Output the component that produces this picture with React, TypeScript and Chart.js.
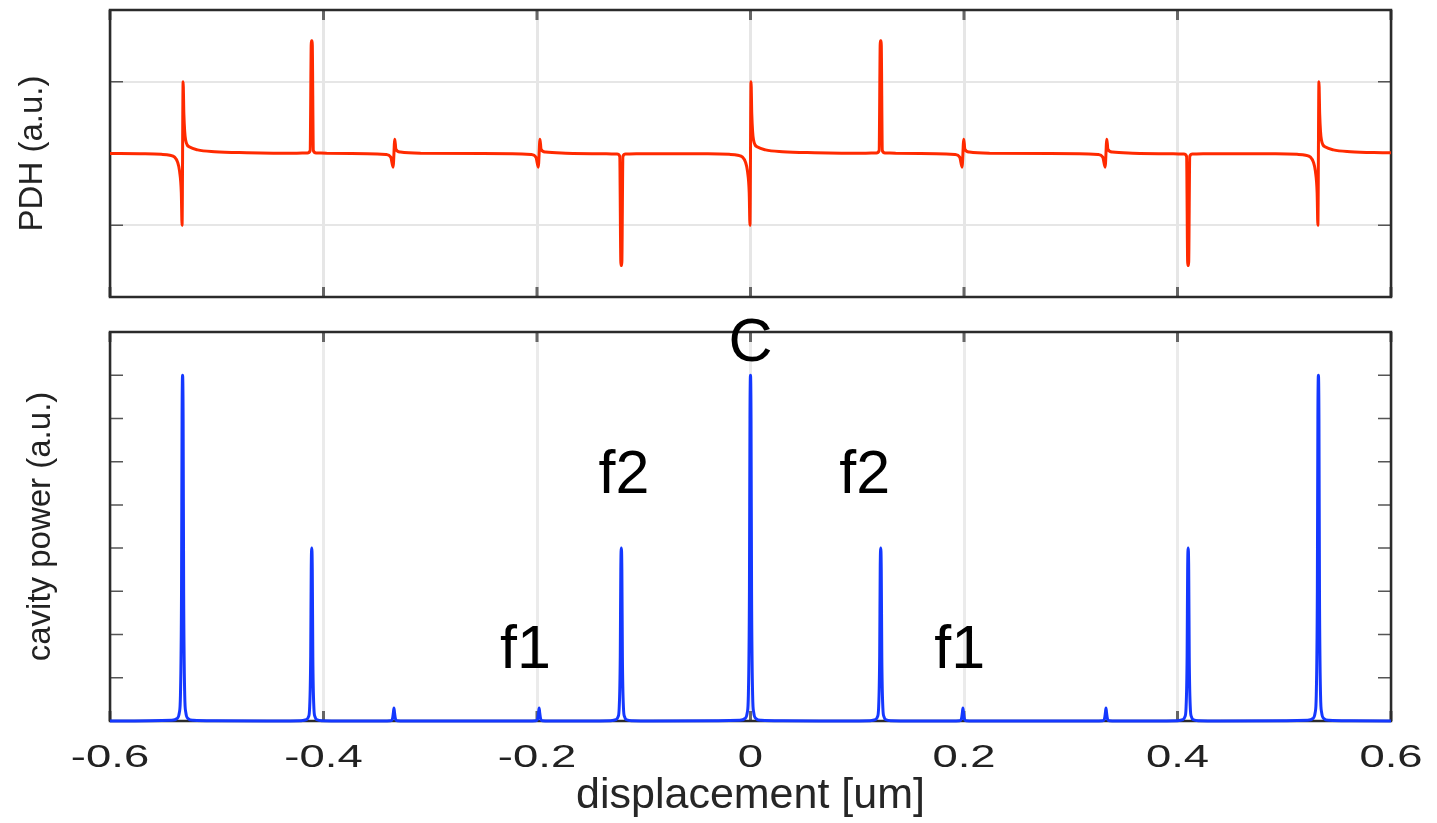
import React, { useEffect, useRef } from "react";
import { Chart, registerables } from "chart.js";

Chart.register(...registerables);

const FONT = "'Liberation Sans', Arial, sans-serif";

// x axis (displacement, um)
const xTickValues = [-0.6, -0.4, -0.2, 0, 0.2, 0.4, 0.6];
const xTickLabels = ["-0.6", "-0.4", "-0.2", "0", "0.2", "0.4", "0.6"];

// y ticks (labels hidden in the reference)
const pdhYTicks = [-1, 1];
const cavYTicks = [0, 1, 2, 3, 4, 5, 6, 7, 8, 9];

// PDH error signal (a.u.)
const pdhX = [
  -0.6,
  -0.572, -0.552, -0.544, -0.5395, -0.5367, -0.5348, -0.5332, -0.5325, -0.5315, -0.5308, -0.5292, -0.5254, -0.518, -0.502, -0.472,
  -0.425, -0.415, -0.4125, -0.4114, -0.4106, -0.4095, -0.407, -0.397,
  -0.359, -0.3415, -0.337, -0.3348, -0.3332, -0.3322, -0.328, -0.309,
  -0.223, -0.2055, -0.201, -0.1988, -0.1972, -0.1962, -0.192, -0.173,
  -0.135, -0.125, -0.1225, -0.1214, -0.1206, -0.1195, -0.117, -0.107,
  -0.04, -0.02, -0.012, -0.0075, -0.0047, -0.0028, -0.0012, -0.0005, 0.0005, 0.0012, 0.0028, 0.0066, 0.014, 0.03, 0.06,
  0.108, 0.118, 0.1205, 0.1216, 0.1224, 0.1235, 0.126, 0.136,
  0.174, 0.1915, 0.196, 0.1982, 0.1998, 0.2008, 0.205, 0.224,
  0.308, 0.3255, 0.33, 0.3322, 0.3338, 0.3348, 0.339, 0.358,
  0.396, 0.406, 0.4085, 0.4096, 0.4104, 0.4115, 0.414, 0.424,
  0.492, 0.512, 0.52, 0.5245, 0.5273, 0.5292, 0.5308, 0.5315, 0.5325, 0.5332, 0.5348, 0.5386, 0.546, 0.562, 0.592,
  0.6,
];
const pdhY = [
  0,
  -0.004, -0.012, -0.025, -0.05, -0.12, -0.25, -0.55, -1.0, 1.0, 0.55, 0.19, 0.09, 0.05, 0.025, 0.012,
  0.004, 0.008, 0.04, 1.57, 1.57, 0.04, 0.008, 0.003,
  -0.003, -0.015, -0.05, -0.19, 0.2, 0.06, 0.02, 0.005,
  -0.003, -0.015, -0.05, -0.19, 0.2, 0.06, 0.02, 0.005,
  -0.003, -0.008, -0.04, -1.56, -1.56, -0.04, -0.008, -0.004,
  -0.004, -0.012, -0.025, -0.05, -0.12, -0.25, -0.55, -1.0, 1.0, 0.55, 0.19, 0.09, 0.05, 0.025, 0.012,
  0.004, 0.008, 0.04, 1.57, 1.57, 0.04, 0.008, 0.003,
  -0.003, -0.015, -0.05, -0.19, 0.2, 0.06, 0.02, 0.005,
  -0.003, -0.015, -0.05, -0.19, 0.2, 0.06, 0.02, 0.005,
  -0.003, -0.008, -0.04, -1.56, -1.56, -0.04, -0.008, -0.004,
  -0.004, -0.012, -0.025, -0.05, -0.12, -0.25, -0.55, -1.0, 1.0, 0.55, 0.19, 0.09, 0.05, 0.025, 0.012,
  0.01,
];

// cavity power (a.u.)
const cavX = [
  -0.6,
  -0.562, -0.542, -0.537, -0.535, -0.534, -0.533, -0.5325, -0.532, -0.5315, -0.531, -0.53, -0.529, -0.527, -0.522, -0.502,
  -0.441, -0.421, -0.416, -0.414, -0.413, -0.412, -0.4115, -0.411, -0.4105, -0.41, -0.409, -0.408, -0.406, -0.401, -0.381,
  -0.344, -0.337, -0.3355, -0.3345, -0.334, -0.3335, -0.3325, -0.331, -0.324,
  -0.208, -0.201, -0.1995, -0.1985, -0.198, -0.1975, -0.1965, -0.195, -0.188,
  -0.151, -0.131, -0.126, -0.124, -0.123, -0.122, -0.1215, -0.121, -0.1205, -0.12, -0.119, -0.118, -0.116, -0.111, -0.091,
  -0.03, -0.01, -0.005, -0.003, -0.002, -0.001, -0.0005, 0, 0.0005, 0.001, 0.002, 0.003, 0.005, 0.01, 0.03,
  0.092, 0.112, 0.117, 0.119, 0.12, 0.121, 0.1215, 0.122, 0.1225, 0.123, 0.124, 0.125, 0.127, 0.132, 0.152,
  0.189, 0.196, 0.1975, 0.1985, 0.199, 0.1995, 0.2005, 0.202, 0.209,
  0.323, 0.33, 0.3315, 0.3325, 0.333, 0.3335, 0.3345, 0.336, 0.343,
  0.38, 0.4, 0.405, 0.407, 0.408, 0.409, 0.4095, 0.41, 0.4105, 0.411, 0.412, 0.413, 0.415, 0.42, 0.44,
  0.502, 0.522, 0.527, 0.529, 0.53, 0.531, 0.5315, 0.532, 0.5325, 0.533, 0.534, 0.535, 0.537, 0.542, 0.562,
  0.6,
];
const cavY = [
  0,
  0.004, 0.015, 0.06, 0.2, 0.6, 3.0, 7.0, 8, 7.0, 3.0, 0.6, 0.2, 0.06, 0.015, 0.004,
  0.002, 0.008, 0.03, 0.1, 0.3, 1.5, 3.5, 4, 3.5, 1.5, 0.3, 0.1, 0.03, 0.008, 0.002,
  0.002, 0.008, 0.04, 0.2, 0.3, 0.2, 0.04, 0.008, 0.002,
  0.002, 0.008, 0.04, 0.2, 0.3, 0.2, 0.04, 0.008, 0.002,
  0.002, 0.008, 0.03, 0.1, 0.3, 1.5, 3.5, 4, 3.5, 1.5, 0.3, 0.1, 0.03, 0.008, 0.002,
  0.004, 0.015, 0.06, 0.2, 0.6, 3.0, 7.0, 8, 7.0, 3.0, 0.6, 0.2, 0.06, 0.015, 0.004,
  0.002, 0.008, 0.03, 0.1, 0.3, 1.5, 3.5, 4, 3.5, 1.5, 0.3, 0.1, 0.03, 0.008, 0.002,
  0.002, 0.008, 0.04, 0.2, 0.3, 0.2, 0.04, 0.008, 0.002,
  0.002, 0.008, 0.04, 0.2, 0.3, 0.2, 0.04, 0.008, 0.002,
  0.002, 0.008, 0.03, 0.1, 0.3, 1.5, 3.5, 4, 3.5, 1.5, 0.3, 0.1, 0.03, 0.008, 0.002,
  0.004, 0.015, 0.06, 0.2, 0.6, 3.0, 7.0, 8, 7.0, 3.0, 0.6, 0.2, 0.06, 0.015, 0.004,
  0,
];

// peak annotations in the lower panel (data coordinates of the text baseline)
const annText = ["C", "f2", "f2", "f1", "f1"];
const annX = [0, -0.1185, 0.107, -0.2108, 0.196];
const annY = [8.33, 5.275, 5.275, 1.226, 1.226];

const framePlugin = {
  id: "frame",
  beforeDatasetsDraw(chart: any) {
    const { ctx, chartArea: a } = chart;
    const xs = chart.scales.x;
    const ys = chart.scales.y;
    ctx.save();
    ctx.lineCap = "butt";
    ctx.strokeStyle = "#666";
    ctx.lineWidth = 3;
    ctx.beginPath();
    xs.ticks.forEach((t: any) => {
      const p = xs.getPixelForValue(t.value);
      ctx.moveTo(p, a.top);
      ctx.lineTo(p, a.top + 10);
      ctx.moveTo(p, a.bottom);
      ctx.lineTo(p, a.bottom - 10);
    });
    ctx.stroke();
    ctx.strokeStyle = "#555";
    ctx.lineWidth = 1.5;
    ctx.beginPath();
    ys.ticks.forEach((t: any) => {
      const p = ys.getPixelForValue(t.value);
      ctx.moveTo(a.left, p);
      ctx.lineTo(a.left + 13, p);
      ctx.moveTo(a.right, p);
      ctx.lineTo(a.right - 13, p);
    });
    ctx.stroke();
    ctx.strokeStyle = "#2b2b2b";
    ctx.lineWidth = 2.5;
    ctx.strokeRect(a.left, a.top, a.right - a.left, a.bottom - a.top);
    ctx.restore();
  },
};

const bottomTextPlugin = {
  id: "bottomText",
  afterDraw(chart: any) {
    const { ctx, chartArea: a } = chart;
    const xs = chart.scales.x;
    const ys = chart.scales.y;
    ctx.save();
    ctx.fillStyle = "#222";
    ctx.font = `32px ${FONT}`;
    ctx.textAlign = "center";
    ctx.textBaseline = "alphabetic";
    xs.ticks.forEach((t: any, i: number) => {
      const p = xs.getPixelForValue(t.value);
      ctx.save();
      ctx.translate(p, a.bottom + 46);
      ctx.scale(1.42, 1);
      ctx.fillText(xTickLabels[i], 0, 0);
      ctx.restore();
    });
    ctx.fillStyle = "#000";
    ctx.font = `61px ${FONT}`;
    annText.forEach((s, i) => {
      ctx.fillText(s, xs.getPixelForValue(annX[i]), ys.getPixelForValue(annY[i]));
    });
    ctx.restore();
  },
};

const setXTicks = (s: any) => {
  s.ticks = xTickValues.map((v) => ({ value: v }));
};

export default function App() {
  const topRef = useRef<HTMLCanvasElement>(null);
  const botRef = useRef<HTMLCanvasElement>(null);

  useEffect(() => {
    const pdhData = pdhX.map((x, i) => ({ x, y: pdhY[i] }));
    const cavData = cavX.map((x, i) => ({ x, y: cavY[i] }));

    const top = new Chart(topRef.current!, {
      type: "line",
      data: {
        datasets: [
          {
            data: pdhData,
            borderColor: "#ff2a00",
            borderWidth: 3,
            pointRadius: 0,
            cubicInterpolationMode: "monotone",
            borderJoinStyle: "bevel",
            clip: 4,
          } as any,
        ],
      },
      options: {
        animation: false,
        responsive: false,
        events: [],
        layout: { padding: { top: 10, right: 46, left: 0, bottom: 0 } },
        plugins: { legend: { display: false }, tooltip: { enabled: false } },
        scales: {
          x: {
            type: "linear",
            min: -0.6,
            max: 0.6,
            afterBuildTicks: setXTicks,
            ticks: { display: false },
            grid: { color: "#e6e6e6", lineWidth: 3, drawTicks: false },
            border: { display: false },
            afterFit: (s: any) => {
              s.height = 3;
            },
          },
          y: {
            type: "linear",
            min: -2,
            max: 2,
            afterBuildTicks: (s: any) => {
              s.ticks = pdhYTicks.map((v) => ({ value: v }));
            },
            ticks: { display: false },
            grid: { color: "#e6e6e6", lineWidth: 2, drawTicks: false },
            border: { display: false },
            title: {
              display: true,
              text: "PDH (a.u.)",
              color: "#222",
              font: { family: FONT, size: 33, lineHeight: 1 },
              padding: { top: 16, bottom: 0 },
            },
            afterFit: (s: any) => {
              s.width = 110;
            },
          },
        },
      } as any,
      plugins: [framePlugin],
    });

    const bot = new Chart(botRef.current!, {
      type: "line",
      data: {
        datasets: [
          {
            data: cavData,
            borderColor: "#1438ff",
            borderWidth: 3,
            pointRadius: 0,
            cubicInterpolationMode: "monotone",
            borderJoinStyle: "bevel",
            clip: 4,
          } as any,
        ],
      },
      options: {
        animation: false,
        responsive: false,
        events: [],
        layout: { padding: { top: 32, right: 46, left: 0, bottom: 0 } },
        plugins: { legend: { display: false }, tooltip: { enabled: false } },
        scales: {
          x: {
            type: "linear",
            min: -0.6,
            max: 0.6,
            afterBuildTicks: setXTicks,
            ticks: { display: false },
            grid: { color: "#ebebeb", lineWidth: 3, drawTicks: false },
            border: { display: false },
            title: {
              display: true,
              text: "displacement [um]",
              color: "#262626",
              font: { family: FONT, size: 43, lineHeight: 1 },
              padding: { top: 0, bottom: 5.5 },
            },
            afterFit: (s: any) => {
              s.height = 102;
            },
          },
          y: {
            type: "linear",
            min: 0,
            max: 9,
            afterBuildTicks: (s: any) => {
              s.ticks = cavYTicks.map((v) => ({ value: v }));
            },
            ticks: { display: false },
            grid: { display: false },
            border: { display: false },
            title: {
              display: true,
              text: "cavity power (a.u.)",
              color: "#222",
              font: { family: FONT, size: 33, lineHeight: 1 },
              padding: { top: 24, bottom: 0 },
            },
            afterFit: (s: any) => {
              s.width = 110;
            },
          },
        },
      } as any,
      plugins: [framePlugin, bottomTextPlugin],
    });

    return () => {
      top.destroy();
      bot.destroy();
    };
  }, []);

  return (
    <div style={{ position: "absolute", left: 0, top: 0, width: 1437, height: 823, background: "#fff" }}>
      <canvas ref={topRef} width={1437} height={300} style={{ position: "absolute", left: 0, top: 0 }} />
      <canvas ref={botRef} width={1437} height={523} style={{ position: "absolute", left: 0, top: 300 }} />
    </div>
  );
}
